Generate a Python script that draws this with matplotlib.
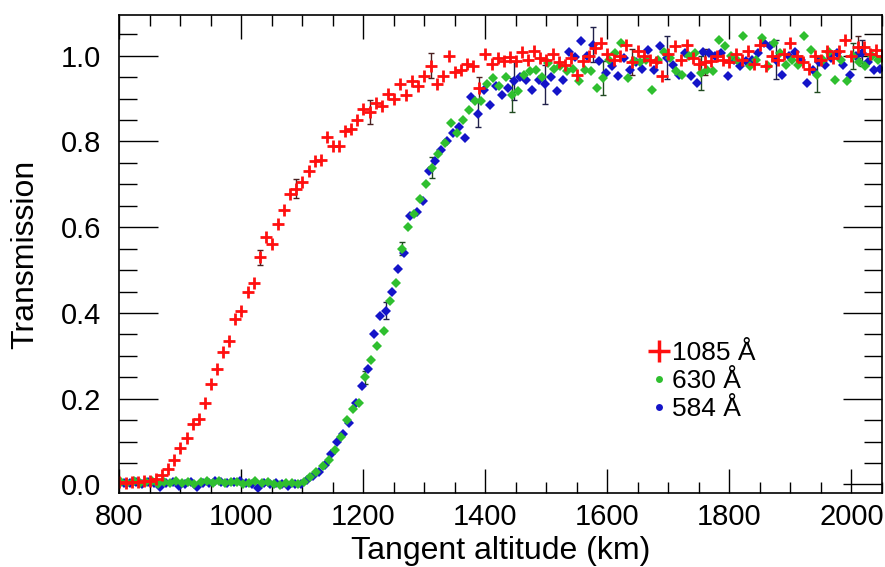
import numpy as np
import matplotlib
matplotlib.use("Agg")
import matplotlib.pyplot as plt
from matplotlib.lines import Line2D
from matplotlib.ticker import MultipleLocator

plt.rcParams['font.family'] = ['Liberation Sans', 'DejaVu Sans']

# Transmission, one value every 10 km
alt_start_red = 800
alt_start_green = 803
alt_start_blue = 807
alt_step = 10

t_1085 = [0.005, 0.004, 0.006, 0.005, 0.007, 0.008, 0.013, 0.022, 0.035, 0.058,
          0.085, 0.108, 0.14, 0.152, 0.19, 0.235, 0.27, 0.31, 0.335, 0.385,
          0.405, 0.448, 0.47, 0.53, 0.578, 0.56, 0.607, 0.64, 0.678, 0.69,
          0.705, 0.731, 0.754, 0.757, 0.81, 0.79, 0.79, 0.824, 0.83, 0.85,
          0.875, 0.868, 0.89, 0.883, 0.91, 0.898, 0.933, 0.909, 0.94, 0.93,
          0.952, 0.977, 0.935, 0.952, 1.0, 0.963, 0.966, 0.98, 0.977, 0.925,
          1.004, 0.981, 0.995, 0.987, 0.998, 0.987, 1.008, 0.99, 1.01, 0.995,
          0.99, 1.004, 0.985, 0.979, 0.995, 0.956, 0.987, 1.0, 1.018, 1.03,
          1.005, 0.99, 1.0, 1.026, 0.985, 1.01, 1.0, 0.99, 0.985, 0.952,
          1.005, 1.022, 0.99, 1.026, 0.995, 0.98, 0.985, 0.987, 1.0, 0.99,
          0.985, 1.005, 0.99, 1.012, 0.98, 1.026, 0.975, 1.0, 0.99, 1.005,
          1.03, 1.0, 0.985, 0.97, 1.0, 0.99, 1.01, 0.995, 1.01, 1.037,
          1.0, 1.02, 1.02, 1.005, 1.014, 1.0]

t_630 = [0.006, 0.004, 0.008, 0.003, 0.005, 0.007, 0.002, 0.006, 0.004, 0.009,
         0.003, 0.005, 0.001, 0.006, 0.008, 0.004, 0.007, 0.003, 0.005, 0.006,
         0.002, 0.004, 0.007, 0.003, 0.005, 0.002, -0.002, 0.004, 0.003, 0.001,
         0.006, 0.018, 0.028, 0.042, 0.058, 0.08, 0.11, 0.15, 0.175, 0.19,
         0.25, 0.29, 0.322, 0.357, 0.427, 0.47, 0.55, 0.6, 0.63, 0.665,
         0.7, 0.739, 0.77, 0.797, 0.843, 0.82, 0.851, 0.874, 0.894, 0.894,
         0.933, 0.948, 0.93, 0.95, 0.909, 0.917, 0.955, 0.965, 0.967, 0.95,
         0.983, 0.97, 0.975, 0.965, 0.97, 0.94, 0.967, 0.965, 0.925, 0.948,
         0.99, 1.006, 1.03, 0.948, 0.987, 0.985, 0.99, 0.921, 0.99, 1.008,
         0.995, 0.965, 0.956, 1.0, 1.006, 0.96, 0.967, 0.965, 1.037, 1.022,
         1.0, 0.99, 1.045, 0.975, 0.99, 1.041, 0.975, 1.03, 1.006, 0.979,
         0.99, 0.979, 1.045, 1.014, 0.956, 0.99, 1.008, 0.944, 0.99, 0.94,
         1.0, 0.985, 0.975, 1.0, 0.99]

t_584 = [0.004, 0.003, 0.006, 0.002, 0.005, 0.004, -0.005, 0.003, 0.006, -0.004,
         0.002, 0.005, -0.006, 0.003, 0.004, 0.008, 0.006, 0.003, 0.005, 0.007,
         0.004, 0.002, -0.008, 0.003, 0.001, 0.004, 0.002, -0.003, 0.001, 0.0,
         0.01, 0.02, 0.03, 0.045, 0.07, 0.1, 0.118, 0.144, 0.19, 0.23,
         0.27, 0.351, 0.394, 0.405, 0.45, 0.502, 0.54, 0.626, 0.635, 0.661,
         0.731, 0.754, 0.78, 0.8, 0.82, 0.834, 0.809, 0.904, 0.863, 0.919,
         0.884, 0.93, 0.908, 0.925, 0.942, 0.95, 0.944, 0.921, 0.944, 0.933,
         0.95, 0.917, 0.944, 1.008, 0.998, 1.034, 1.0, 1.026, 0.987, 0.96,
         0.975, 0.952, 0.995, 0.967, 0.985, 0.97, 1.014, 0.967, 1.022, 0.995,
         0.979, 0.956, 1.006, 0.952, 0.936, 1.008, 1.006, 1.0, 1.006, 0.952,
         0.99, 0.975, 0.987, 0.99, 1.006, 1.03, 1.022, 0.991, 0.956, 1.0,
         1.008, 0.99, 0.936, 0.967, 0.985, 0.979, 0.995, 1.006, 0.979, 0.956,
         1.0, 1.006, 0.985, 0.967, 0.97]

# only a handful of points carry error bars
err_alt_1085 = [1030, 1090, 1210, 1310, 1390, 1640, 1760, 2010]
err_1085 = [0.018, 0.022, 0.028, 0.03, 0.025, 0.03, 0.03, 0.025]
err_alt_630 = [1203, 1263, 1313, 1443, 1593, 1753, 1943, 2003]
err_630 = [0.015, 0.015, 0.025, 0.04, 0.04, 0.04, 0.04, 0.03]
err_alt_584 = [1237, 1387, 1447, 1497, 1577, 1697, 1877, 2017]
err_584 = [0.02, 0.03, 0.045, 0.045, 0.04, 0.05, 0.045, 0.03]

labels = ["1085 Å", "630 Å", "584 Å"]

alt_1085 = alt_start_red + alt_step * np.arange(len(t_1085))
alt_630 = alt_start_green + alt_step * np.arange(len(t_630))
alt_584 = alt_start_blue + alt_step * np.arange(len(t_584))

red = "#ff1010"
green = "#2fbf2f"
blue = "#1414c8"

fig = plt.figure(figsize=(8.85, 5.67), dpi=100)
ax = fig.add_axes([0.135, 0.1305, 0.8615, 0.843])

# error bars first, points on top
for alts, ts, e_alt, e_val, col in [(alt_584, t_584, err_alt_584, err_584, "#20204a"),
                                    (alt_630, t_630, err_alt_630, err_630, "#204a20"),
                                    (alt_1085, t_1085, err_alt_1085, err_1085, "#4a2020")]:
    ts = np.array(ts)
    y_err = [ts[np.argmin(np.abs(alts - a))] for a in e_alt]
    ax.errorbar(e_alt, y_err, yerr=e_val, fmt="none", ecolor=col,
                elinewidth=1, capsize=2.5, capthick=1)

ax.plot(alt_584, t_584, "D", color=blue, ms=5.5, mew=0, ls="none")
ax.plot(alt_630, t_630, "D", color=green, ms=5.5, mew=0, ls="none")
ax.plot(alt_1085, t_1085, "+", color=red, ms=9, mew=2, ls="none")

ax.set_xlim(800, 2050)
ax.set_ylim(-0.02, 1.095)
ax.xaxis.set_major_locator(MultipleLocator(200))
ax.xaxis.set_minor_locator(MultipleLocator(50))
ax.yaxis.set_major_locator(MultipleLocator(0.2))
ax.yaxis.set_minor_locator(MultipleLocator(0.05))
ax.yaxis.set_major_formatter(plt.FormatStrFormatter("%.1f"))

ax.tick_params(axis="both", which="both", direction="in", top=True, right=True,
               width=1, labelsize=21, colors="black")
ax.tick_params(axis="x", which="major", length=17, pad=7)
ax.tick_params(axis="x", which="minor", length=8)
ax.tick_params(axis="y", which="major", length=28, pad=13)
ax.tick_params(axis="y", which="minor", length=13)
for s in ax.spines.values():
    s.set_linewidth(1.2)

ax.set_xlabel("Tangent altitude (km)", fontsize=23, labelpad=4)
ax.set_ylabel("Transmission", fontsize=23, labelpad=15)

# legend
handles = [Line2D([], [], marker="+", color=red, ms=16, mew=2.5, ls="none"),
           Line2D([], [], marker="o", color=green, ms=5, mew=0, ls="none"),
           Line2D([], [], marker="o", color=blue, ms=5, mew=0, ls="none")]
ax.legend(handles, labels, loc="upper left", bbox_to_anchor=(0.692, 0.318),
          frameon=False, fontsize=19, handlelength=0.9, handletextpad=0.05,
          labelspacing=0.15, borderpad=0, borderaxespad=0)

plt.savefig("out.png", dpi=100)
